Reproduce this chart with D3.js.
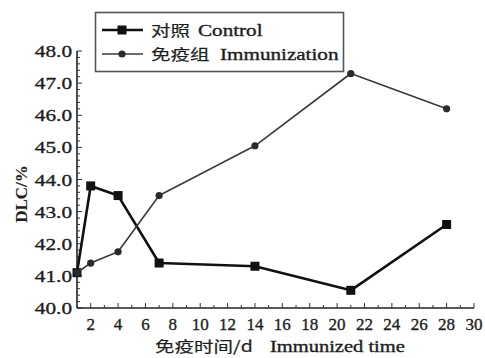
<!DOCTYPE html>
<html>
<head>
<meta charset="utf-8">
<script src="https://cdn.jsdelivr.net/npm/d3@7/dist/d3.min.js"></script>
<style>
  html, body { margin: 0; padding: 0; background: #fff; }
  svg text { font-family: "Liberation Serif", "Times New Roman", serif; fill: #1e1e1e; stroke: #1e1e1e; stroke-width: 0.35px; }
  svg text.cjk { font-family: "Noto Sans CJK SC", sans-serif; stroke-width: 0.2px; }
</style>
</head>
<body>
<svg id="chart" width="485" height="358"></svg>
<script>
// Days after immunization
const days = [1, 2, 4, 7, 14, 21, 28];
// DLC (%) per group
const controlValues = [41.1, 43.8, 43.5, 41.4, 41.3, 40.55, 42.6];
const immunizedValues = [41.1, 41.4, 41.75, 43.5, 45.05, 47.3, 46.2];
// Axis ticks
const xTickLabels = [2, 4, 6, 8, 10, 12, 14, 16, 18, 20, 22, 24, 26, 28, 30];
const yTickLabels = [40, 41, 42, 43, 44, 45, 46, 47, 48];
// Legend entries
const seriesNames = [["对照", "Control"], ["免疫组", "Immunization"]];

const svg = d3.select("#chart");

const x = d3.scaleLinear().domain([1, 30]).range([77, 474]);
const y = d3.scaleLinear().domain([40, 48]).range([308, 51]);

// Stretch a text element horizontally by a factor (wide-set lettering)
function stretch(sel, factor) {
  sel.each(function () {
    const len = this.getComputedTextLength();
    d3.select(this).attr("textLength", len * factor).attr("lengthAdjust", "spacingAndGlyphs");
  });
}

// ---- Y axis ----
const yMinor = d3.range(40, 48.001, 0.2);
const yAxis = svg.append("g");
yAxis.append("line")
  .attr("x1", x(1)).attr("x2", x(1)).attr("y1", y(40)).attr("y2", y(48))
  .attr("stroke", "#222").attr("stroke-width", 1.6);
yAxis.selectAll("line.minor").data(yMinor).join("line")
  .attr("class", "minor")
  .attr("x1", x(1)).attr("x2", d => x(1) + (Math.abs(d - Math.round(d)) < 1e-6 ? 5 : 3))
  .attr("y1", d => y(d)).attr("y2", d => y(d))
  .attr("stroke", "#333").attr("stroke-width", 1);
const yLabels = yAxis.selectAll("text").data(yTickLabels).join("text")
  .attr("x", 72).attr("y", d => y(d) + 6)
  .attr("text-anchor", "end")
  .attr("font-size", 17)
  .text(d => d.toFixed(1));
stretch(yLabels, 1.25);

// ---- X axis ----
const xAxis = svg.append("g");
xAxis.append("line")
  .attr("x1", x(1)).attr("x2", x(30)).attr("y1", y(40)).attr("y2", y(40))
  .attr("stroke", "#222").attr("stroke-width", 1.6);
xAxis.selectAll("line.tick").data(d3.range(1, 31)).join("line")
  .attr("class", "tick")
  .attr("x1", d => x(d)).attr("x2", d => x(d))
  .attr("y1", y(40)).attr("y2", d => y(40) - (d % 2 === 0 ? 5 : 3))
  .attr("stroke", "#333").attr("stroke-width", 1);
xAxis.selectAll("text").data(xTickLabels).join("text")
  .attr("x", d => x(d)).attr("y", 330)
  .attr("text-anchor", "middle")
  .attr("font-size", 17)
  .text(d => d);

// ---- Axis titles ----
const xTitle = svg.append("text")
  .attr("y", 352).attr("font-size", 16);
xTitle.append("tspan").attr("x", 155)
  .style("font-family", "'Noto Sans CJK SC', sans-serif").style("stroke-width", "0.2px")
  .attr("font-size", 15)
  .text("免疫时间/d");
xTitle.append("tspan").attr("x", 270).text("Immunized time");
xTitle.selectAll("tspan").each(function (d, i) {
  const len = this.getComputedTextLength();
  d3.select(this).attr("textLength", len * (i === 0 ? 1.3 : 1.28)).attr("lengthAdjust", "spacingAndGlyphs");
});

svg.append("text")
  .attr("transform", "translate(27,194) rotate(-90)")
  .attr("text-anchor", "middle")
  .attr("font-size", 17)
  .attr("font-weight", "bold")
  .style("stroke-width", "0.1px")
  .text("DLC/%");

// ---- Series ----
const seriesStyles = [
  { values: controlValues, stroke: "#111", width: 2.6, marker: "square" },
  { values: immunizedValues, stroke: "#3a3a3a", width: 1.6, marker: "circle" }
];
const line = d3.line().x(d => x(d[0])).y(d => y(d[1]));

seriesStyles.forEach(s => {
  const pts = days.map((d, i) => [d, s.values[i]]);
  svg.append("path")
    .attr("d", line(pts))
    .attr("fill", "none")
    .attr("stroke", s.stroke)
    .attr("stroke-width", s.width)
    .attr("stroke-linejoin", "round");
  const g = svg.append("g");
  if (s.marker === "square") {
    g.selectAll("rect").data(pts).join("rect")
      .attr("x", d => x(d[0]) - 4.5).attr("y", d => y(d[1]) - 4.5)
      .attr("width", 9).attr("height", 9)
      .attr("fill", "#111");
  } else {
    g.selectAll("circle").data(pts).join("circle")
      .attr("cx", d => x(d[0])).attr("cy", d => y(d[1]))
      .attr("r", 3.6)
      .attr("fill", "#2a2a2a");
  }
});

// ---- Legend ----
const legend = svg.append("g");
legend.append("rect")
  .attr("x", 95.5).attr("y", 12.5).attr("width", 248).attr("height", 59)
  .attr("fill", "#fff").attr("stroke", "#555").attr("stroke-width", 1.6);
seriesNames.forEach((names, i) => {
  const s = seriesStyles[i];
  const cy = 30 + i * 24;
  legend.append("line")
    .attr("x1", 102).attr("x2", 143).attr("y1", cy).attr("y2", cy)
    .attr("stroke", s.stroke).attr("stroke-width", s.width);
  if (s.marker === "square") {
    legend.append("rect").attr("x", 122 - 4.5).attr("y", cy - 4.5)
      .attr("width", 9).attr("height", 9).attr("fill", "#111");
  } else {
    legend.append("circle").attr("cx", 122).attr("cy", cy).attr("r", 3.6).attr("fill", "#2a2a2a");
  }
  const cn = legend.append("text")
    .attr("class", "cjk").attr("x", 151).attr("y", cy + 6)
    .attr("font-size", 15)
    .text(names[0]);
  stretch(cn, 1.3);
  const en = legend.append("text")
    .attr("x", i === 0 ? 198 : 220).attr("y", cy + 6)
    .attr("font-size", 16)
    .text(names[1]);
  stretch(en, 1.32);
});
</script>
</body>
</html>
